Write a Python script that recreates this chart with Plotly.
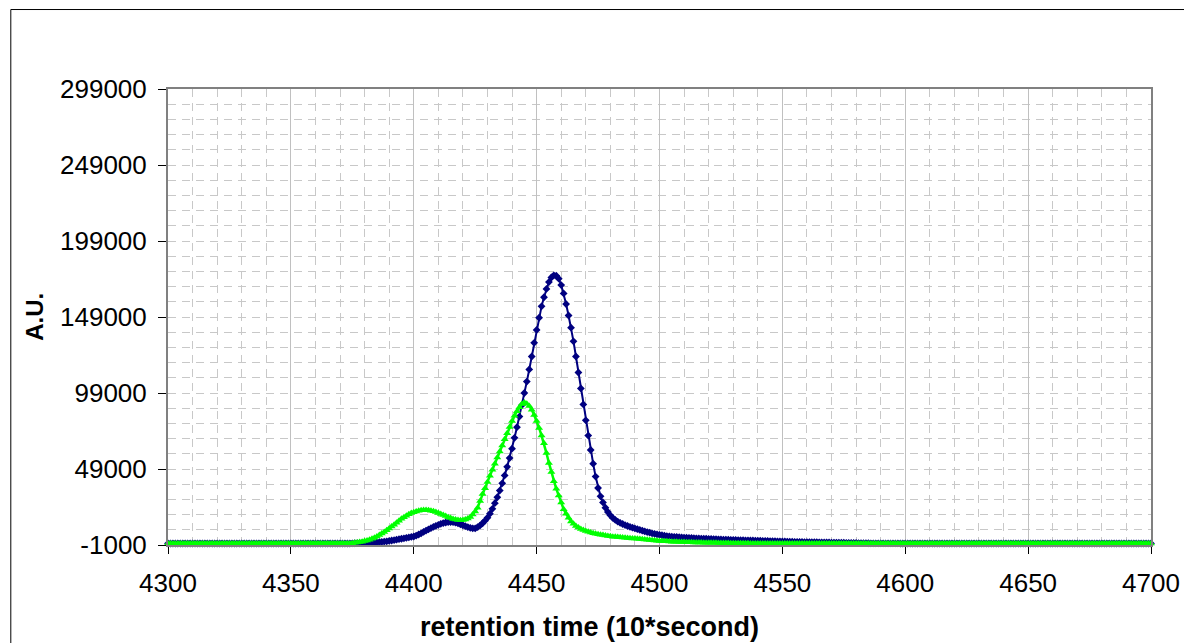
import plotly.graph_objects as go

# retention time axis (10*second), one sample per unit
TIME = list(range(4300, 4701))

# navy trace (A.U.)
BLUE = (
    [0, 0, 0, 0, 0, 0, 0, 0, 0, 0, 0, 0, 0, 0, 0, 0, 0, 0, 0, 0, 0, 0, 0, 0, 0]
    + [0, 0, 0, 0, 0, 0, 0, 0, 0, 0, 0, 0, 0, 0, 0, 0, 0, 0, 0, 0, 0, 0, 0, 0, 0]
    + [0, 0, 0, 0, 0, 0, 0, 0, 0, 0, 0, 0, 0, 0, 0, 0, 0, 0, 0, 0, 0, 0, 0, 0, 0]
    + [100, 150, 200, 250, 300, 350, 400, 500, 550, 650]
    + [750, 900, 1050, 1250, 1450, 1700, 1950, 2200, 2500, 2800]
    + [3100, 3400, 3700, 4000, 4300, 4600, 5200, 5900, 6700, 7600]
    + [8500, 9300, 10100, 10900, 11600, 12300, 12900, 13400, 13800, 14000]
    + [14100, 14000, 13700, 13200, 12600, 12000, 11400, 10800, 10300, 10000]
    + [9900, 10800, 11900, 13300, 15000, 17000, 19600, 22800, 26500, 30400]
    + [34800, 39600, 44800, 50400, 56200, 62400, 69500, 76500, 83500, 91000]
    + [99000, 106500, 114500, 123000, 132000, 140500, 148500, 156000, 162000, 167500]
    + [172000, 175000, 176400, 176200, 174200, 170000, 164500, 157500, 150000, 142000]
    + [133000, 123000, 112500, 102000, 91500, 81000, 71000, 61500, 52500, 44000]
    + [36500, 31000, 27000, 23500, 20700, 18500, 16800, 15500, 14400, 13500]
    + [12800, 12100, 11500, 10900, 10400, 9900, 9400, 8900, 8400, 7900]
    + [7500, 7100, 6700, 6300, 6000, 5700, 5400, 5100, 4900, 4700]
    + [4500, 4400, 4300, 4150, 4000, 3900, 3800, 3700, 3600, 3500]
    + [3400, 3300, 3200, 3150, 3100, 3000, 2950, 2900, 2800, 2750]
    + [2700, 2600, 2550, 2500, 2400, 2350, 2300, 2250, 2200, 2150]
    + [2100, 2050, 2000, 1950, 1900, 1850, 1800, 1750, 1700, 1650]
    + [1600, 1550, 1500, 1450, 1400, 1350, 1300, 1250, 1200, 1150]
    + [1100, 1050, 1000, 980, 950, 920, 900, 870, 840, 800]
    + [770, 740, 710, 680, 650, 620, 600, 570, 540, 500]
    + [470, 440, 400, 370, 340, 300, 270, 240, 200, 170]
    + [150, 130, 110, 100, 90, 80, 70, 60, 50, 40]
    + [30, 20, 10, 0, 0, 0, 0, 0, 0, 0]
    + [0, 0, 0, 0, 0, 0, 0, 0, 0, 0, 0, 0, 0, 0, 0, 0, 0, 0, 0, 0, 0, 0, 0, 0]
    + [0, 0, 0, 0, 0, 0, 0, 0, 0, 0, 0, 0, 0, 0, 0, 0, 0, 0, 0, 0, 0, 0, 0, 0]
    + [0, 0, 0, 0, 0, 0, 0, 0, 0, 0, 0, 0, 0, 0, 0, 0, 0, 0, 0, 0, 0, 0, 0, 0]
    + [0, 0, 0, 0, 0, 0, 0, 0, 0, 0, 0, 0, 0, 0, 0, 0, 0, 0, 0, 0, 0, 0, 0, 0]
)

# green trace (A.U.)
GREEN = (
    [0, 0, 0, 0, 0, 0, 0, 0, 0, 0, 0, 0, 0, 0, 0, 0, 0, 0, 0, 0, 0, 0, 0, 0, 0]
    + [0, 0, 0, 0, 0, 0, 0, 0, 0, 0, 0, 0, 0, 0, 0, 0, 0, 0, 0, 0, 0, 0, 0, 0, 0]
    + [0, 0, 0, 0, 0, 0, 0, 0, 0, 0, 0, 0, 0, 0, 0, 0, 0, 0, 0, 0, 0, 0, 0, 0, 0]
    + [200, 400, 600, 900, 1200, 1600, 2000, 2500, 3100, 3800]
    + [4600, 5500, 6500, 7600, 8700, 9900, 11100, 12400, 13700, 15000]
    + [16200, 17300, 18300, 19200, 20000, 20600, 21100, 21500, 21800, 22000]
    + [22000, 21900, 21600, 21200, 20700, 20100, 19400, 18700, 18000, 17300]
    + [16700, 16100, 15700, 15400, 15300, 15400, 15800, 16500, 17500, 19000]
    + [21000, 23500, 28000, 32500, 36300, 40500, 44500, 48500, 52500, 56500]
    + [60500, 64500, 68500, 72600, 76700, 80500, 84000, 87000, 89700, 91700]
    + [92700, 92000, 90500, 88000, 84500, 80500, 76000, 71000, 66000, 59500]
    + [53000, 47000, 41000, 36000, 31500, 27000, 22500, 19500, 17000, 14500]
    + [13000, 11500, 10500, 9500, 8800, 8200, 7700, 7200, 6800, 6400]
    + [6100, 5800, 5500, 5200, 5000, 4700, 4500, 4350, 4200, 4050]
    + [3900, 3750, 3600, 3450, 3300, 3200, 3050, 2900, 2750, 2600]
    + [2450, 2300, 2150, 2000, 1850, 1700, 1600, 1500, 1400, 1300]
    + [1200, 1150, 1100, 1000, 950, 900, 850, 800, 750, 700]
    + [650, 620, 590, 560, 530, 500, 470, 440, 410, 380]
    + [350, 320, 290, 260, 230, 200, 180, 160, 140, 120]
    + [100, 80, 60, 40, 20, 0, 0, 0, 0, 0]
    + [0, 0, 0, 0, 0, 0, 0, 0, 0, 0, 0, 0, 0, 0, 0, 0, 0, 0, 0, 0, 0, 0, 0, 0, 0, 0]
    + [0, 0, 0, 0, 0, 0, 0, 0, 0, 0, 0, 0, 0, 0, 0, 0, 0, 0, 0, 0, 0, 0, 0, 0, 0, 0]
    + [0, 0, 0, 0, 0, 0, 0, 0, 0, 0, 0, 0, 0, 0, 0, 0, 0, 0, 0, 0, 0, 0, 0, 0, 0, 0]
    + [0, 0, 0, 0, 0, 0, 0, 0, 0, 0, 0, 0, 0, 0, 0, 0, 0, 0, 0, 0, 0, 0, 0, 0, 0, 0]
    + [0, 0, 0, 0, 0, 0, 0, 0, 0, 0, 0, 0, 0, 0, 0, 0, 0, 0, 0, 0, 0, 0, 0, 0, 0, 0]
    + [0, 0, 0, 0, 0, 0, 0, 0, 0, 0, 0, 0, 0, 0, 0, 0, 0, 0, 0, 0, 0, 0, 0, 0, 0, 0]
)

X_TICKS = [4300, 4350, 4400, 4450, 4500, 4550, 4600, 4650, 4700]
Y_TICKS = [-1000, 49000, 99000, 149000, 199000, 249000, 299000]
Y_LABELS = ["-1000", "49000", "99000", "149000", "199000", "249000", "299000"]
X_TITLE = "retention time (10*second)"
Y_TITLE = "A.U."

FONT = "Liberation Sans, Arial, sans-serif"

fig = go.Figure()
fig.add_trace(go.Scatter(
    x=TIME, y=BLUE, mode="lines+markers",
    line=dict(color="#000080", width=2),
    marker=dict(symbol="diamond", size=6, color="#000080"),
    showlegend=False, cliponaxis=False,
))
fig.add_trace(go.Scatter(
    x=TIME, y=GREEN, mode="lines+markers",
    line=dict(color="#00ff00", width=2.5),
    marker=dict(symbol="triangle-up", size=7, color="#00ff00"),
    showlegend=False, cliponaxis=False,
))

grid_minor = dict(showgrid=True, gridcolor="#c8c8c8", gridwidth=1, griddash="8px,6px", ticks="")

fig.update_layout(
    width=1184, height=635,
    margin=dict(l=160, r=36, t=81, b=98, pad=0),
    paper_bgcolor="white", plot_bgcolor="white",
    font=dict(family=FONT, size=26, color="black"),
    xaxis=dict(
        range=[4300, 4700], tickmode="array", tickvals=X_TICKS,
        ticktext=[str(v) for v in X_TICKS],
        ticks="outside", ticklen=7, tickcolor="#000000", tickwidth=1,
        showline=True, linecolor="#808080", linewidth=2, mirror=True,
        showgrid=True, gridcolor="#c0c0c0", gridwidth=1,
        zeroline=False,
        minor=dict(dtick=10, tick0=4300, **grid_minor),
        tickfont=dict(size=26),
        ticklabelstandoff=7,
    ),
    yaxis=dict(
        range=[-1000, 299000], tickmode="array", tickvals=Y_TICKS, ticktext=Y_LABELS,
        ticks="outside", ticklen=8, tickcolor="#000000", tickwidth=1,
        showline=True, linecolor="#808080", linewidth=2, mirror=True,
        showgrid=True, gridcolor="#c8c8c8", gridwidth=1, griddash="8px,6px",
        zeroline=False,
        minor=dict(dtick=10000, tick0=-1000, **grid_minor),
        tickfont=dict(size=26),
        ticklabelstandoff=6,
    ),
    annotations=[
        dict(text="<b>" + X_TITLE + "</b>", xref="paper", yref="paper",
             x=0.4291, y=-0.1798, xanchor="center", yanchor="middle",
             showarrow=False, font=dict(size=27)),
        dict(text="<b>" + Y_TITLE + "</b>", xref="paper", yref="paper",
             x=-0.1366, y=0.5, xanchor="center", yanchor="middle", textangle=-90,
             showarrow=False, font=dict(size=24)),
    ],
    shapes=[
        dict(type="line", xref="paper", yref="paper", x0=-0.15992, x1=1.04,
             y0=1.1743, y1=1.1743, line=dict(color="black", width=1)),
        dict(type="line", xref="paper", yref="paper", x0=-0.15992, x1=-0.15992,
             y0=1.1743, y1=-0.25, line=dict(color="black", width=1)),
    ],
)

fig.write_html("out.html")
